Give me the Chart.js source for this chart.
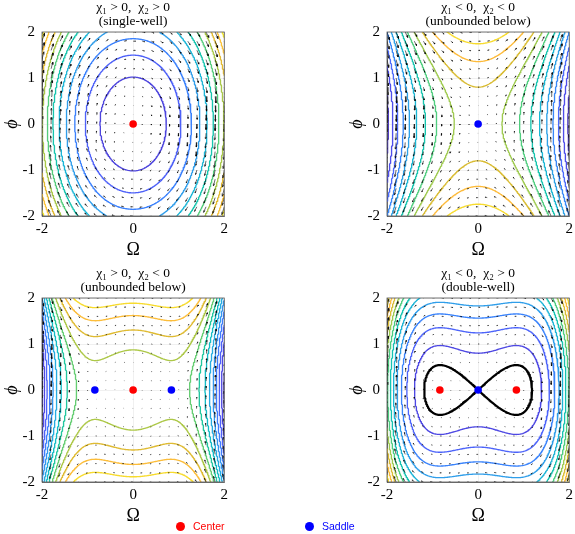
<!DOCTYPE html>
<html>
<head>
<meta charset="utf-8">
<script src="https://cdn.jsdelivr.net/npm/chart.js@4.4.1/dist/chart.umd.min.js"></script>
<style>
  html, body { margin: 0; padding: 0; background: #fff; }
  body { width: 575px; height: 534px; position: relative; overflow: hidden; }
  canvas { position: absolute; }
  .key { position: absolute; top: 520px; height: 12px; font: 10.5px "Liberation Sans", Arial, sans-serif; line-height: 12px; }
  .key i { position: absolute; left: 0; top: 1.5px; width: 9px; height: 9px; border-radius: 50%; }
  .key span { position: absolute; left: 17px; white-space: nowrap; }
</style>
</head>
<body>
<canvas id="p0" width="232" height="266" style="left:0;top:0"></canvas>
<canvas id="p1" width="232" height="266" style="left:345px;top:0"></canvas>
<canvas id="p2" width="232" height="266" style="left:0;top:266px"></canvas>
<canvas id="p3" width="232" height="266" style="left:345px;top:266px"></canvas>
<div class="key" style="left:176px;color:#f00"><i style="background:#f00"></i><span>Center</span></div>
<div class="key" style="left:305px;color:#00f"><i style="background:#00f"></i><span>Saddle</span></div>
<script>
// panels: top-left, top-right, bottom-left, bottom-right
const panelCases = ["χ₁ > 0,  χ₂ > 0", "χ₁ < 0,  χ₂ < 0", "χ₁ > 0,  χ₂ < 0", "χ₁ < 0,  χ₂ > 0"];
const panelTags = ["(single-well)", "(unbounded below)", "(unbounded below)", "(double-well)"];

// H(Ω, ϕ) = ϕ²/2 + quadCoef·Ω² + quartCoef·Ω⁴
const quadCoef = [0.95, -1.0, 0.51, -0.42];
const quartCoef = [0.06, -0.08, -0.37, 0.30];

// contour levels drawn in each panel
const levelsSingle = [0.52, 1.12, 1.72, 2.32, 2.92, 3.52, 4.12, 4.72, 5.32, 5.92, 6.52];
const levelsUnboundedA = [-5.08, -4.48, -3.88, -3.28, -2.68, -2.08, -1.48, -0.88, -0.28, 0.32, 0.92, 1.52];
const levelsUnboundedB = [-3.81, -3.34, -2.88, -2.41, -1.95, -1.48, -1.02, -0.55, -0.09, 0.38, 0.85, 1.31, 1.78];
const levelsDouble = [0.32, 0.77, 1.22, 1.67, 2.12, 2.57, 3.02, 3.47, 3.92, 4.37, 4.82];
const separatrixLevel = [null, null, null, 0];

// fixed points (all on ϕ = 0)
const centerOmega = [[0], [], [0], [-0.84, 0.84]];
const saddleOmega = [[], [0], [-0.84, 0.84], [0]];

const omegaTicks = [-2, 0, 2];
const phiTicks = [-2, -1, 0, 1, 2];

const panelLevels = [levelsSingle, levelsUnboundedA, levelsUnboundedB, levelsDouble];

// parula colormap (current MATLAB version), stops every 0.05
const parula = [
  [0.2422, 0.1504, 0.6603], [0.2661, 0.2011, 0.8043], [0.2794, 0.2653, 0.9094], [0.2807, 0.3313, 0.9636],
  [0.2647, 0.4030, 0.9935], [0.2006, 0.4803, 0.9906], [0.1764, 0.5504, 0.9516], [0.1461, 0.6089, 0.9080],
  [0.1080, 0.6669, 0.8734], [0.0554, 0.7133, 0.8063], [0.0207, 0.7467, 0.7130], [0.0962, 0.7730, 0.6096],
  [0.2680, 0.7959, 0.4849], [0.4681, 0.7993, 0.3640], [0.6554, 0.7760, 0.2579], [0.8023, 0.7381, 0.1775],
  [0.9100, 0.7100, 0.1600], [0.9900, 0.7200, 0.2000], [0.9880, 0.7900, 0.1800], [0.9600, 0.8800, 0.1300],
  [0.9769, 0.9839, 0.0805]
];

function parulaColor(t) {
  t = Math.min(1, Math.max(0, t)) * (parula.length - 1);
  const k = Math.min(parula.length - 2, Math.floor(t)), f = t - k;
  const c = parula[k].map((v, i) => Math.round(255 * (0.04 + 0.96 * (v + f * (parula[k + 1][i] - v)))));
  return `rgb(${c[0]},${c[1]},${c[2]})`;
}

const H = (p, om, ph) => 0.5 * ph * ph + quadCoef[p] * om * om + quartCoef[p] * om ** 4;
const dHdOmega = (p, om) => 2 * quadCoef[p] * om + 4 * quartCoef[p] * om ** 3;

// sampling grid for the contours (odd cell count so 0 is not a node)
const GRID = 200;
const nodes = Array.from({ length: GRID }, (_, i) => -2 + 4 * i / (GRID - 1));

function sampleGrid(p) {
  return nodes.map(ph => nodes.map(om => H(p, om, ph)));
}

// marching squares, segments chained into polylines
function traceContours(z, level) {
  const pts = new Map();
  const segs = [];
  const edge = (key, x0, y0, z0, x1, y1, z1) => {
    if (!pts.has(key)) {
      const t = (level - z0) / (z1 - z0);
      pts.set(key, { x: x0 + t * (x1 - x0), y: y0 + t * (y1 - y0) });
    }
    return key;
  };
  const n = nodes.length;
  for (let j = 0; j < n - 1; j++) {
    for (let i = 0; i < n - 1; i++) {
      const za = z[j][i], zb = z[j][i + 1], zc = z[j + 1][i + 1], zd = z[j + 1][i];
      const idx = (za > level ? 1 : 0) | (zb > level ? 2 : 0) | (zc > level ? 4 : 0) | (zd > level ? 8 : 0);
      if (idx === 0 || idx === 15) continue;
      const xa = nodes[i], xb = nodes[i + 1], ya = nodes[j], yd = nodes[j + 1];
      const eB = () => edge('h' + i + '_' + j, xa, ya, za, xb, ya, zb);
      const eR = () => edge('v' + (i + 1) + '_' + j, xb, ya, zb, xb, yd, zc);
      const eT = () => edge('h' + i + '_' + (j + 1), xa, yd, zd, xb, yd, zc);
      const eL = () => edge('v' + i + '_' + j, xa, ya, za, xa, yd, zd);
      switch (idx) {
        case 1: case 14: segs.push([eL(), eB()]); break;
        case 2: case 13: segs.push([eB(), eR()]); break;
        case 3: case 12: segs.push([eL(), eR()]); break;
        case 4: case 11: segs.push([eR(), eT()]); break;
        case 6: case 9: segs.push([eB(), eT()]); break;
        case 7: case 8: segs.push([eL(), eT()]); break;
        case 5: case 10: {
          const mid = (za + zb + zc + zd) / 4 > level;
          const isolateAC = idx === 5 ? !mid : mid;
          if (isolateAC) { segs.push([eL(), eB()]); segs.push([eR(), eT()]); }
          else { segs.push([eB(), eR()]); segs.push([eT(), eL()]); }
        }
      }
    }
  }
  const ends = new Map();
  segs.forEach((s, k) => s.forEach(key => {
    if (!ends.has(key)) ends.set(key, []);
    ends.get(key).push(k);
  }));
  const used = new Uint8Array(segs.length);
  const lines = [];
  const extend = (chain, atEnd) => {
    for (;;) {
      const key = atEnd ? chain[chain.length - 1] : chain[0];
      const next = ends.get(key).find(m => !used[m]);
      if (next === undefined) return;
      used[next] = 1;
      const other = segs[next][0] === key ? segs[next][1] : segs[next][0];
      if (atEnd) chain.push(other); else chain.unshift(other);
    }
  };
  for (let k = 0; k < segs.length; k++) {
    if (used[k]) continue;
    used[k] = 1;
    const chain = [segs[k][0], segs[k][1]];
    extend(chain, true);
    extend(chain, false);
    lines.push(chain.map(key => pts.get(key)));
  }
  return lines;
}

function joinLines(lines) {
  const out = [];
  lines.forEach(l => { out.push(...l); out.push({ x: null, y: null }); });
  return out;
}

// quiver of the Hamiltonian flow (dΩ/dt, dϕ/dt) = (∂H/∂ϕ, -∂H/∂Ω), MATLAB-style autoscale
const QUIVER = 21;
function quiverData(p) {
  const q = Array.from({ length: QUIVER }, (_, i) => -2 + 4 * i / (QUIVER - 1));
  const d = 4 / (QUIVER - 1);
  const vecs = [];
  let maxLen = 0;
  q.forEach(ph => q.forEach(om => {
    const u = ph, v = -dHdOmega(p, om);
    maxLen = Math.max(maxLen, Math.hypot(u / d, v / d));
    vecs.push([om, ph, u, v]);
  }));
  const s = 0.9 / maxLen;
  const a = 0.33, b = 0.33;
  const out = [];
  vecs.forEach(([x, y, u, v]) => {
    const us = u * s, vs = v * s, tx = x + us, ty = y + vs;
    out.push({ x, y }, { x: tx, y: ty }, { x: null, y: null });
    out.push({ x: tx - a * (us + b * vs), y: ty - a * (vs - b * us) }, { x: tx, y: ty },
             { x: tx - a * (us - b * vs), y: ty - a * (vs + b * us) }, { x: null, y: null });
  });
  return out;
}

const serif = '"Liberation Serif", "DejaVu Serif", serif';

const framePlugin = {
  id: 'frame',
  afterDatasetsDraw(chart) {
    const { ctx, chartArea: a } = chart;
    ctx.save();
    ctx.strokeStyle = '#555';
    ctx.lineWidth = 0.8;
    ctx.strokeRect(a.left, a.top, a.right - a.left, a.bottom - a.top);
    ctx.restore();
  }
};

function buildPanel(p) {
  const z = sampleGrid(p);
  const levels = panelLevels[p];
  // colour limits follow the sampled surface, like MATLAB's auto CLim
  let cmin = Infinity, cmax = -Infinity;
  z.forEach(r => r.forEach(v => { cmin = Math.min(cmin, v); cmax = Math.max(cmax, v); }));

  const datasets = [];
  datasets.push({
    label: 'Center', data: centerOmega[p].map(x => ({ x, y: 0 })),
    pointRadius: 3.8, pointBackgroundColor: '#ff0000', pointBorderWidth: 0, showLine: false, order: 0
  });
  datasets.push({
    label: 'Saddle', data: saddleOmega[p].map(x => ({ x, y: 0 })),
    pointRadius: 3.8, pointBackgroundColor: '#0000ff', pointBorderWidth: 0, showLine: false, order: 0
  });
  if (separatrixLevel[p] !== null) {
    datasets.push({
      label: 'separatrix', data: joinLines(traceContours(z, separatrixLevel[p])),
      showLine: true, pointRadius: 0, borderColor: '#000', borderWidth: 2.2,
      borderJoinStyle: 'round', borderCapStyle: 'round', spanGaps: false, order: 1
    });
  }
  datasets.push({
    label: 'flow', data: quiverData(p), showLine: true, pointRadius: 0,
    borderColor: 'rgba(0,0,0,0.85)', borderWidth: 0.7, spanGaps: false, order: 2
  });
  levels.forEach(level => {
    datasets.push({
      label: 'H = ' + level, data: joinLines(traceContours(z, level)),
      showLine: true, pointRadius: 0, borderWidth: 1.35, borderJoinStyle: 'round',
      borderColor: parulaColor((level - cmin) / (cmax - cmin)), spanGaps: false, order: 3
    });
  });

  const tickFont = { family: serif, size: 15 };
  new Chart(document.getElementById('p' + p), {
    type: 'scatter',
    data: { datasets },
    options: {
      responsive: false,
      animation: false,
      events: [],
      layout: { padding: { left: 0, right: 4, top: 0, bottom: 0 } },
      plugins: {
        legend: { display: false },
        tooltip: { enabled: false },
        title: {
          display: true,
          fullSize: false,
          text: [panelCases[p], panelTags[p]],
          color: '#000',
          font: { family: serif, size: 13.5, weight: 'normal', lineHeight: 1.0 },
          padding: { top: 1, bottom: 4 }
        }
      },
      scales: {
        x: {
          type: 'linear', min: -2, max: 2,
          afterBuildTicks: s => { s.ticks = omegaTicks.map(v => ({ value: v })); },
          afterFit: s => { s.height = 50; },
          ticks: { font: tickFont, color: '#000', padding: 4, maxRotation: 0, autoSkip: false },
          grid: { color: 'rgba(0,0,0,0.1)', lineWidth: 0.6, drawTicks: false },
          border: { color: '#555', width: 0.8 },
          title: { display: true, text: 'Ω', color: '#000', font: { family: serif, size: 18 }, padding: { top: 0, bottom: 5 } }
        },
        y: {
          type: 'linear', min: -2, max: 2,
          afterBuildTicks: s => { s.ticks = phiTicks.map(v => ({ value: v })); },
          afterFit: s => { s.width = 42; },
          ticks: { font: tickFont, color: '#000', padding: 7, autoSkip: false },
          grid: { color: 'rgba(0,0,0,0.1)', lineWidth: 0.6, drawTicks: false },
          border: { color: '#555', width: 0.8 },
          title: { display: true, text: 'ϕ', color: '#000', font: { family: serif, size: 18, style: 'italic' }, padding: { top: 1, bottom: 0 } }
        }
      }
    },
    plugins: [framePlugin]
  });
}

[0, 1, 2, 3].forEach(buildPanel);
</script>
</body>
</html>
